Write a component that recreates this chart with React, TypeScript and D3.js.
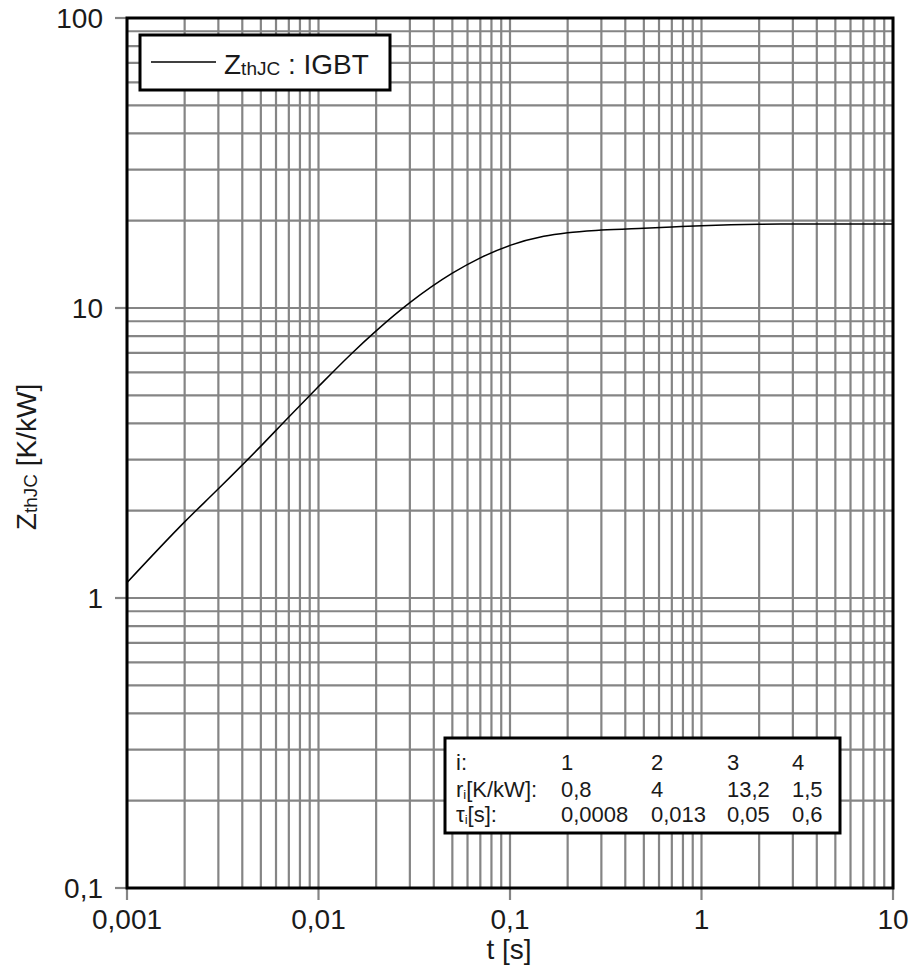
import React from "react";
import * as d3 from "d3";

const tValues = [0.001, 0.002, 0.003, 0.005, 0.007, 0.01, 0.015, 0.02, 0.03, 0.05, 0.07, 0.1, 0.15, 0.2, 0.3, 0.5, 0.7, 1, 2, 3, 5, 10];
const zValues = [1.13, 1.83, 2.38, 3.34, 4.21, 5.36, 7.0, 8.34, 10.43, 13.18, 14.89, 16.44, 17.67, 18.18, 18.56, 18.85, 19.03, 19.22, 19.45, 19.49, 19.5, 19.5];

const xTickValues = [0.001, 0.01, 0.1, 1, 10];
const xTickLabels = ["0,001", "0,01", "0,1", "1", "10"];
const yTickValues = [0.1, 1, 10, 100];
const yTickLabels = ["0,1", "1", "10", "100"];

const tableIndex = ["1", "2", "3", "4"];
const tableR = ["0,8", "4", "13,2", "1,5"];
const tableTau = ["0,0008", "0,013", "0,05", "0,6"];

const W = 913, H = 970;
const L = 127, R = 893, T = 18, B = 888;
const FONT = "'Liberation Sans', Arial, sans-serif";
const FS = 28;
const TXT = "#1a1a1a";

export default function App() {
  const x = d3.scaleLog().domain([0.001, 10]).range([L, R]);
  const y = d3.scaleLog().domain([0.1, 100]).range([B, T]);

  const minorX: number[] = [];
  for (let d = 0.001; d < 10; d *= 10) for (let k = 1; k <= 9; k++) minorX.push(d * k);
  minorX.push(10);
  const minorY: number[] = [];
  for (let d = 0.1; d < 100; d *= 10) for (let k = 1; k <= 9; k++) minorY.push(d * k);
  minorY.push(100);

  const pts = tValues.map((t, i) => [t, zValues[i]] as [number, number]);
  const line = d3.line<[number, number]>()
    .x(d => x(d[0]))
    .y(d => y(d[1]))
    .curve(d3.curveMonotoneX);

  const grid = "#858585";
  const colX = [561, 651, 727, 792];
  const rowY = [770, 797, 822];
  const TFS = 22;

  return (
    <svg width={W} height={H} style={{ position: "absolute", left: 0, top: 0, background: "#fff" }} fontFamily={FONT}>
      <rect x={0} y={0} width={W} height={H} fill="#fff" />
      {minorX.map((v, i) => (
        <line key={"gx" + i} x1={x(v)} x2={x(v)} y1={T} y2={B} stroke={grid} strokeWidth={2.2} />
      ))}
      {minorY.map((v, i) => (
        <line key={"gy" + i} x1={L} x2={R} y1={y(v)} y2={y(v)} stroke={grid} strokeWidth={2.2} />
      ))}
      {xTickValues.map((v, i) => (
        <line key={"tx" + i} x1={x(v)} x2={x(v)} y1={B} y2={B + 12} stroke={grid} strokeWidth={2.2} />
      ))}
      {yTickValues.map((v, i) => (
        <line key={"ty" + i} x1={L - 12} x2={L} y1={y(v)} y2={y(v)} stroke={grid} strokeWidth={2.2} />
      ))}
      <rect x={L} y={T} width={R - L} height={B - T} fill="none" stroke="#000" strokeWidth={3} />
      <path d={line(pts) || ""} fill="none" stroke="#000" strokeWidth={1.5} />

      {xTickValues.map((v, i) => (
        <text key={"xl" + i} x={x(v)} y={929} textAnchor="middle" fontSize={FS} fill={TXT}>{xTickLabels[i]}</text>
      ))}
      {yTickValues.map((v, i) => (
        <text key={"yl" + i} x={103} y={y(v) + 10} textAnchor="end" fontSize={FS} fill={TXT}>{yTickLabels[i]}</text>
      ))}
      <text x={509} y={959} textAnchor="middle" fontSize={FS} fill={TXT}>t [s]</text>
      <text transform="translate(36,457) rotate(-90)" textAnchor="middle" fontSize={FS} fill={TXT}>
        Z<tspan fontSize={19} dy={1}>thJC</tspan><tspan dy={-1}> [K/kW]</tspan>
      </text>

      <rect x={140} y={35} width={250} height={55} fill="#fff" stroke="#000" strokeWidth={3} />
      <line x1={151} x2={216} y1={62} y2={62} stroke="#000" strokeWidth={1.5} />
      <text x={224} y={74} fontSize={FS} fill={TXT}>
        Z<tspan fontSize={19} dy={1}>thJC</tspan><tspan dy={-1}> : IGBT</tspan>
      </text>

      <rect x={445} y={738} width={395} height={95} fill="#fff" stroke="#000" strokeWidth={3} />
      <text x={456} y={rowY[0]} fontSize={TFS} fill={TXT}>i:</text>
      <text x={456} y={rowY[1]} fontSize={TFS} fill={TXT}>r<tspan fontSize={13} dy={2}>i</tspan><tspan dy={-2}>[K/kW]:</tspan></text>
      <text x={456} y={rowY[2]} fontSize={TFS} fill={TXT}>τ<tspan fontSize={13} dy={2}>i</tspan><tspan dy={-2}>[s]:</tspan></text>
      {colX.map((cx, i) => (
        <g key={"col" + i}>
          <text x={cx} y={rowY[0]} fontSize={TFS} fill={TXT}>{tableIndex[i]}</text>
          <text x={cx} y={rowY[1]} fontSize={TFS} fill={TXT}>{tableR[i]}</text>
          <text x={cx} y={rowY[2]} fontSize={TFS} fill={TXT}>{tableTau[i]}</text>
        </g>
      ))}
    </svg>
  );
}
